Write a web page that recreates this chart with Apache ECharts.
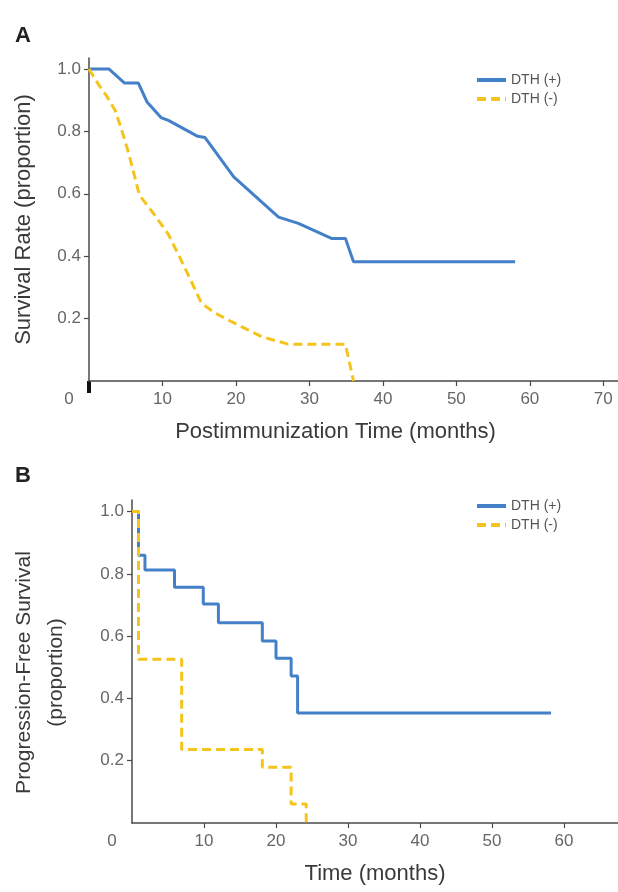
<!DOCTYPE html>
<html>
<head>
<meta charset="utf-8">
<script src="https://cdn.jsdelivr.net/npm/echarts@6/dist/echarts.min.js"></script>
<style>
  html, body { margin: 0; padding: 0; background: #fff; }
  #main { width: 618px; height: 892px; }
</style>
</head>
<body>
<div id="main"></div>
<script>
// panel A: overall survival, [months, proportion]
const survPos = [[0, 1.0], [2.7, 1.0], [4.8, 0.955], [6.7, 0.955], [7.9, 0.894], [9.8, 0.844], [10.8, 0.835],
  [14.8, 0.784], [15.8, 0.78], [19.7, 0.654], [25.8, 0.525], [28.5, 0.505], [33.0, 0.457], [34.9, 0.457],
  [36.0, 0.382], [58.0, 0.382]];
const survNeg = [[0, 1.0], [1.3, 0.95], [2.5, 0.91], [3.6, 0.865], [4.5, 0.8], [5.4, 0.73], [6.7, 0.61],
  [7.2, 0.585], [9.0, 0.53], [10.8, 0.47], [12.9, 0.37], [15.3, 0.25], [17.0, 0.22], [19.4, 0.19],
  [23.5, 0.142], [27.1, 0.118], [34.9, 0.118], [36.0, 0]];
// panel B: progression-free survival (step curves)
const pfsPos = [[0, 1.0], [0.9, 1.0], [0.9, 0.86], [1.8, 0.86], [1.8, 0.812], [5.9, 0.812], [5.9, 0.757],
  [9.9, 0.757], [9.9, 0.703], [12.0, 0.703], [12.0, 0.643], [18.1, 0.643], [18.1, 0.584], [20.0, 0.584],
  [20.0, 0.529], [22.1, 0.529], [22.1, 0.472], [23.0, 0.472], [23.0, 0.353], [58.2, 0.353]];
const pfsNeg = [[0, 1.0], [0.9, 1.0], [0.9, 0.526], [6.9, 0.526], [6.9, 0.236], [18.1, 0.236], [18.1, 0.179],
  [22.1, 0.179], [22.1, 0.061], [24.2, 0.061], [24.2, 0]];

const xTicksA = [0, 10, 20, 30, 40, 50, 60, 70];
const xTicksB = [0, 10, 20, 30, 40, 50, 60];
const yTicks = [0.2, 0.4, 0.6, 0.8, 1.0];
const names = ['DTH (+)', 'DTH (-)'];

const BLUE = '#4480c8';
const GOLD = '#f4c41c';
const AXIS = '#4a4a4a';
const FONT = '"Liberation Sans", Arial, sans-serif';

function xAxis(grid, max, ticks, title) {
  return {
    type: 'value', gridIndex: grid, min: 0, max: max,
    name: title, nameLocation: 'middle', nameGap: 40,
    nameTextStyle: { fontSize: 22, color: '#3a3a3a', fontFamily: FONT, padding: grid === 0 ? [0, 36, 0, 0] : 0 },
    axisLine: { lineStyle: { color: AXIS, width: 1.5 } },
    axisTick: { show: true, length: 5, lineStyle: { color: AXIS, width: 1.2 }, customValues: ticks.slice(1) },
    splitLine: { show: false },
    axisLabel: {
      customValues: ticks, margin: 10, fontSize: 17, color: '#666', fontFamily: FONT,
      formatter: v => v === 0 ? '{z|0}' : String(v),
      rich: { z: { fontSize: 17, color: '#666', fontFamily: FONT, padding: [0, 40, 0, 0] } }
    }
  };
}

function yAxis(grid, max, title, gap, lh, pad) {
  return {
    type: 'value', gridIndex: grid, min: 0, max: max,
    name: title, nameLocation: 'middle', nameGap: gap, nameRotate: 90,
    nameTextStyle: { fontSize: grid === 0 ? 22 : 21, color: '#3a3a3a', fontFamily: FONT, lineHeight: lh, padding: pad },
    axisLine: { show: true, lineStyle: { color: AXIS, width: 1.5 } },
    axisTick: { show: true, length: 5, lineStyle: { color: AXIS, width: 1.2 }, customValues: yTicks },
    splitLine: { show: false },
    axisLabel: { customValues: yTicks, margin: 8, fontSize: 17, color: '#666', fontFamily: FONT,
      formatter: v => v.toFixed(1) }
  };
}

function line(name, data, grid, color, dashed) {
  return {
    name: name, type: 'line', xAxisIndex: grid, yAxisIndex: grid, data: data,
    symbol: 'none', silent: true, animation: false,
    lineStyle: { color: color, width: 3, type: dashed ? [9, 5] : 'solid', cap: 'butt' },
    itemStyle: { color: color }
  };
}

function legend(top) {
  return {
    data: names, orient: 'vertical', left: 470, top: top, itemWidth: 29, itemHeight: 14, itemGap: 5,
    selectedMode: false,
    itemStyle: { opacity: 0 },
    lineStyle: { width: 4 },
    textStyle: { fontSize: 14, color: '#555', fontFamily: FONT }
  };
}

const chart = echarts.init(document.getElementById('main'));
chart.setOption({
  animation: false,
  backgroundColor: '#fff',
  title: [
    { text: 'A', left: 10, top: 20, textStyle: { fontSize: 22, fontWeight: 'bold', color: '#222', fontFamily: FONT } },
    { text: 'B', left: 10, top: 460, textStyle: { fontSize: 22, fontWeight: 'bold', color: '#222', fontFamily: FONT } }
  ],
  legend: [legend(68), legend(494)],
  grid: [
    { left: 89, top: 58, width: 529, height: 323 },
    { left: 122, top: 500, width: 496, height: 323 }
  ],
  xAxis: [
    xAxis(0, 72, xTicksA, 'Postimmunization Time (months)'),
    xAxis(1, 67.5, xTicksB, 'Time (months)')
  ],
  yAxis: [
    yAxis(0, 1.035, 'Survival Rate (proportion)', 52, 26, 0),
    yAxis(1, 1.037, 'Progression-Free Survival\n(proportion)', 60, 32, [0, 22, 0, 0])
  ],
  series: [
    line(names[0], survPos, 0, BLUE, false),
    line(names[1], survNeg, 0, GOLD, true),
    line(names[0], pfsPos, 1, BLUE, false),
    line(names[1], pfsNeg, 1, GOLD, true)
  ]
});

// heavy origin tick on panel A
const o = chart.convertToPixel({ gridIndex: 0 }, [0, 0]);
chart.setOption({
  graphic: [{ type: 'rect', shape: { x: o[0] - 2, y: o[1], width: 4, height: 12 }, style: { fill: '#111' } }]
});
</script>
</body>
</html>
